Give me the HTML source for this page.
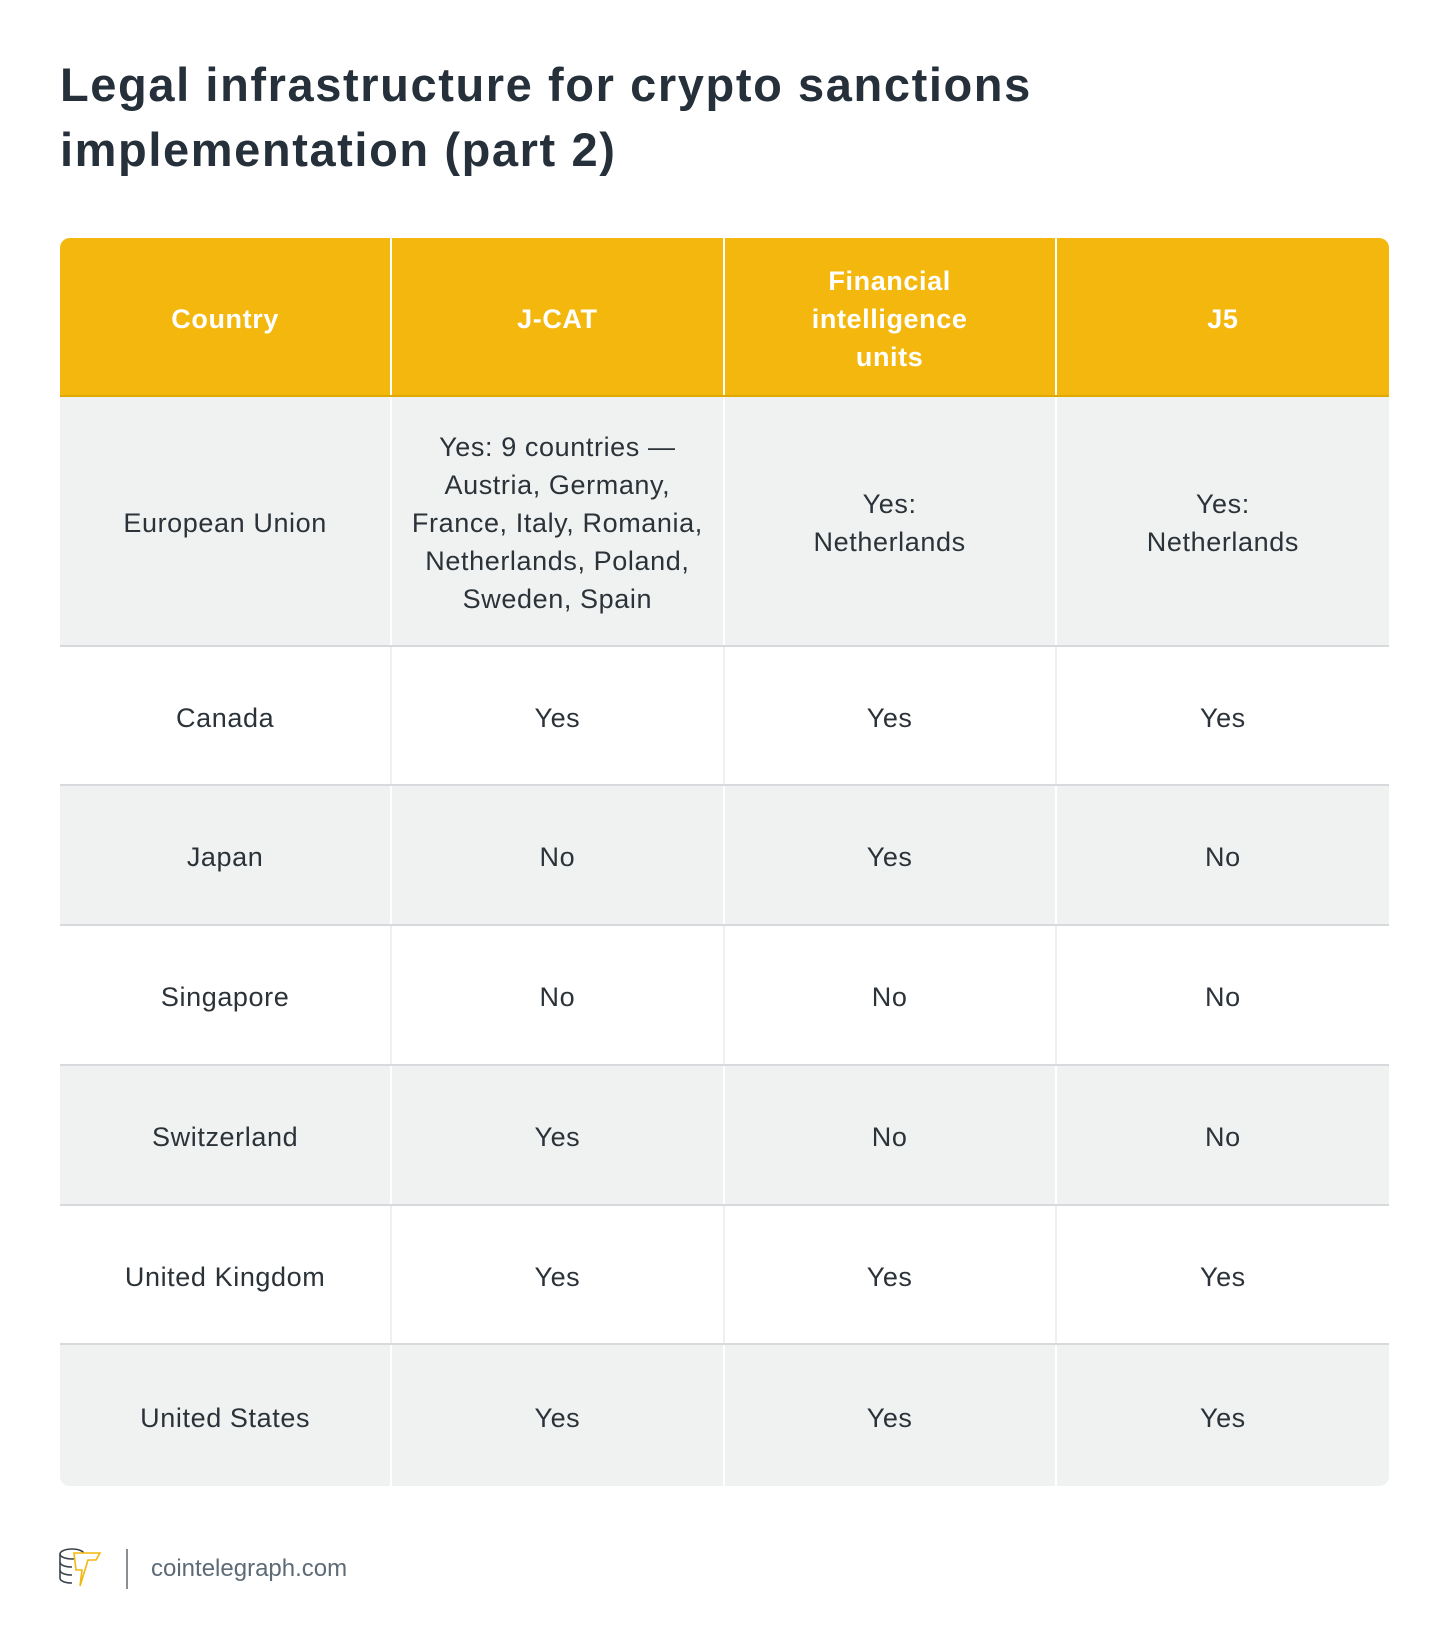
<!DOCTYPE html>
<html><head><meta charset="utf-8"><style>
*{margin:0;padding:0;box-sizing:border-box}
body{width:1450px;height:1649px;background:#fff;position:relative;font-family:"Liberation Sans",sans-serif;overflow:hidden}
.title{position:absolute;left:60px;top:52px;font-size:47px;font-weight:bold;line-height:65px;color:#25303a;letter-spacing:1.6px}
.tbl{position:absolute;left:60px;top:238px;width:1329px;height:1248px;border-radius:10px;overflow:hidden;background:#f0f2f2}
.row{position:absolute;left:0;width:1329px;display:flex}
.cell{width:332.25px;display:flex;align-items:center;justify-content:center;text-align:center;font-size:27px;line-height:38px;color:#2b3238;border-right:2px solid #fff;letter-spacing:0.6px;padding-top:4px}
.cell:last-child{border-right:none}
.hd .cell{color:#fff;font-weight:bold;font-size:27px}
</style></head><body>
<div class="title">Legal infrastructure for crypto sanctions<br>implementation (part 2)</div>
<div class="tbl">
<div class="row hd" style="top:0;height:159px;background:#f4b70d;border-bottom:2px solid #e0a800">
<div class="cell">Country</div><div class="cell">J-CAT</div><div class="cell">Financial<br>intelligence<br>units</div><div class="cell">J5</div></div>
<div class="row" style="top:159px;height:250px;background:#f0f2f2;border-bottom:2px solid #d6dadc">
<div class="cell">European Union</div><div class="cell">Yes: 9 countries —<br>Austria, Germany,<br>France, Italy, Romania,<br>Netherlands, Poland,<br>Sweden, Spain</div><div class="cell">Yes:<br>Netherlands</div><div class="cell">Yes:<br>Netherlands</div></div>
<div class="row" style="top:409px;height:139px;background:#fff;border-bottom:2px solid #d6dadc">
<div class="cell" style="border-color:#eef0f0">Canada</div><div class="cell" style="border-color:#eef0f0">Yes</div><div class="cell" style="border-color:#eef0f0">Yes</div><div class="cell">Yes</div></div>
<div class="row" style="top:548px;height:140px;background:#f0f2f2;border-bottom:2px solid #d6dadc">
<div class="cell">Japan</div><div class="cell">No</div><div class="cell">Yes</div><div class="cell">No</div></div>
<div class="row" style="top:688px;height:140px;background:#fff;border-bottom:2px solid #d6dadc">
<div class="cell" style="border-color:#eef0f0">Singapore</div><div class="cell" style="border-color:#eef0f0">No</div><div class="cell" style="border-color:#eef0f0">No</div><div class="cell">No</div></div>
<div class="row" style="top:828px;height:140px;background:#f0f2f2;border-bottom:2px solid #d6dadc">
<div class="cell">Switzerland</div><div class="cell">Yes</div><div class="cell">No</div><div class="cell">No</div></div>
<div class="row" style="top:968px;height:139px;background:#fff;border-bottom:2px solid #d6dadc">
<div class="cell" style="border-color:#eef0f0">United Kingdom</div><div class="cell" style="border-color:#eef0f0">Yes</div><div class="cell" style="border-color:#eef0f0">Yes</div><div class="cell">Yes</div></div>
<div class="row" style="top:1107px;height:141px;background:#f0f2f2">
<div class="cell">United States</div><div class="cell">Yes</div><div class="cell">Yes</div><div class="cell">Yes</div></div>
</div>
<svg style="position:absolute;left:58px;top:1546px" width="46" height="46" viewBox="0 0 46 46">
<g fill="none" stroke="#3a434b" stroke-width="1.6">
<ellipse cx="14" cy="8" rx="12" ry="5"/>
<path d="M2 8v24c0 3 5 5 12 5"/><path d="M2 16c0 3 5 5 12 5M2 24c0 3 5 5 12 5"/>
</g>
<path d="M16 7h26l-4 7h-8l-8 26 2-16h-6z" fill="#fff" stroke="#f4b70d" stroke-width="1.6"/>
</svg>
<div style="position:absolute;left:126px;top:1549px;width:2px;height:40px;background:#8a8f93"></div>
<div style="position:absolute;left:151px;top:1554px;font-size:24px;color:#5d6b76;line-height:30px">cointelegraph.com</div>
</body></html>
